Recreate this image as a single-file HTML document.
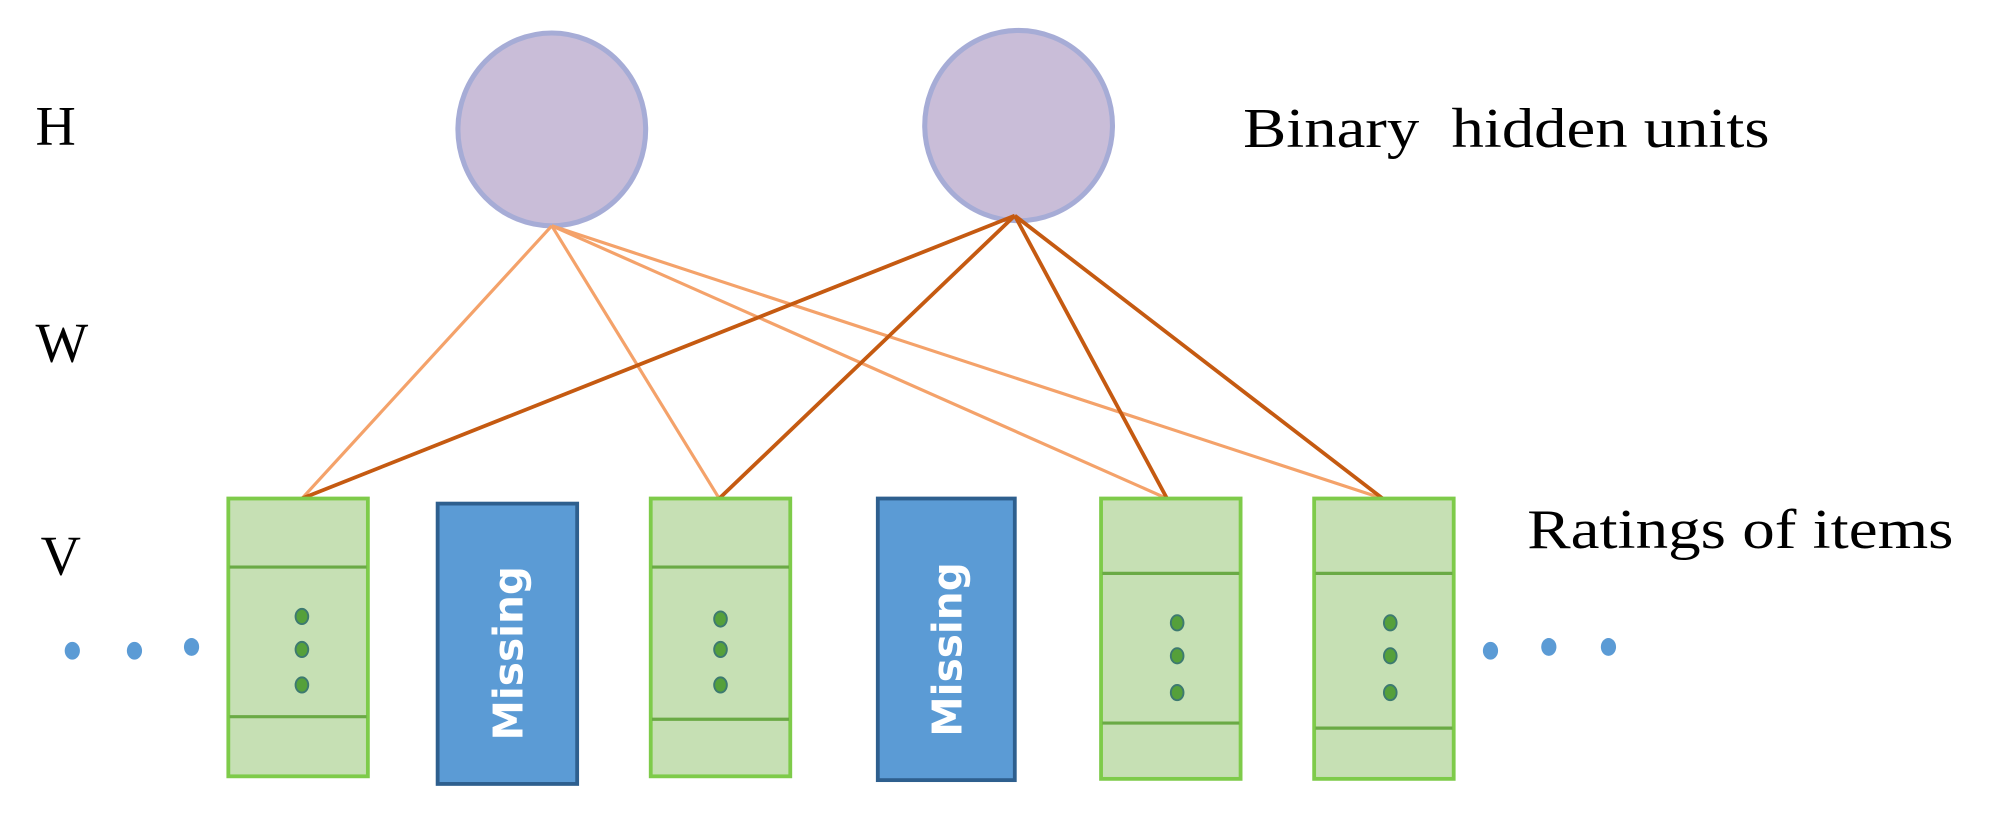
<!DOCTYPE html>
<html><head><meta charset="utf-8"><style>
html,body{margin:0;padding:0;background:#fff;width:1989px;height:822px;overflow:hidden}
svg{display:block}
</style></head><body>
<svg width="1989" height="822" viewBox="0 0 1568 648" xmlns="http://www.w3.org/2000/svg">
<rect width="1568" height="648" fill="#fff"/>
<g font-family="Liberation Serif, serif" font-size="44" fill="#000">
<text x="28" y="114">H</text>
<text x="28" y="285">W</text>
<text x="32" y="453">V</text>
<text x="980" y="116" textLength="415" lengthAdjust="spacingAndGlyphs">Binary&#160; hidden units</text>
<text x="1204" y="432" textLength="336" lengthAdjust="spacingAndGlyphs">Ratings of items</text>
</g>
<ellipse cx="435" cy="102" rx="74" ry="76" fill="#c9bdd8" stroke="#a6acd6" stroke-width="4"/>
<ellipse cx="803" cy="99" rx="74" ry="75" fill="#c9bdd8" stroke="#a6acd6" stroke-width="4"/>
<g stroke="#f4a26a" stroke-width="2.5">
<line x1="435" y1="178" x2="238" y2="393"/>
<line x1="435" y1="178" x2="567" y2="393"/>
<line x1="435" y1="178" x2="920" y2="393"/>
<line x1="435" y1="178" x2="1090" y2="393"/>
</g>
<g stroke="#c55a11" stroke-width="3">
<line x1="800" y1="170" x2="238" y2="393"/>
<line x1="800" y1="170" x2="567" y2="393"/>
<line x1="800" y1="170" x2="920" y2="393"/>
<line x1="800" y1="170" x2="1090" y2="393"/>
</g>
<g fill="#c6e0b4" stroke="#7ecb4a" stroke-width="3">
<rect x="180" y="393" width="110" height="219"/>
<rect x="513" y="393" width="110" height="219"/>
<rect x="868" y="393" width="110" height="221"/>
<rect x="1036" y="393" width="110" height="221"/>
</g>
<g stroke="#6aaa45" stroke-width="2.5">
<line x1="181" y1="447" x2="289" y2="447"/><line x1="181" y1="565" x2="289" y2="565"/>
<line x1="514" y1="447" x2="622" y2="447"/><line x1="514" y1="567" x2="622" y2="567"/>
<line x1="869" y1="452" x2="977" y2="452"/><line x1="869" y1="570" x2="977" y2="570"/>
<line x1="1037" y1="452" x2="1145" y2="452"/><line x1="1037" y1="574" x2="1145" y2="574"/>
</g>
<g fill="#55a03a" stroke="#3d7a70" stroke-width="1.5">
<ellipse cx="238" cy="486" rx="5" ry="6"/><ellipse cx="238" cy="512" rx="5" ry="6"/><ellipse cx="238" cy="540" rx="5" ry="6"/>
<ellipse cx="568" cy="488" rx="5" ry="6"/><ellipse cx="568" cy="512" rx="5" ry="6"/><ellipse cx="568" cy="540" rx="5" ry="6"/>
<ellipse cx="928" cy="491" rx="5" ry="6"/><ellipse cx="928" cy="517" rx="5" ry="6"/><ellipse cx="928" cy="546" rx="5" ry="6"/>
<ellipse cx="1096" cy="491" rx="5" ry="6"/><ellipse cx="1096" cy="517" rx="5" ry="6"/><ellipse cx="1096" cy="546" rx="5" ry="6"/>
</g>
<g fill="#5b9bd5" stroke="#2e5f8e" stroke-width="3">
<rect x="345" y="397" width="110" height="221"/>
<rect x="692" y="393" width="108" height="222"/>
</g>
<g font-family="DejaVu Sans, Liberation Sans, sans-serif" font-weight="bold" font-size="32" fill="#fff" text-anchor="middle">
<text transform="translate(412,515) rotate(-90)">Missing</text>
<text transform="translate(758,512) rotate(-90)">Missing</text>
</g>
<g fill="#5b9bd5">
<ellipse cx="57" cy="513" rx="6" ry="7"/><ellipse cx="106" cy="513" rx="6" ry="7"/><ellipse cx="151" cy="510" rx="6" ry="7"/>
<ellipse cx="1175" cy="513" rx="6" ry="7"/><ellipse cx="1221" cy="510" rx="6" ry="7"/><ellipse cx="1268" cy="510" rx="6" ry="7"/>
</g>
</svg>
</body></html>
